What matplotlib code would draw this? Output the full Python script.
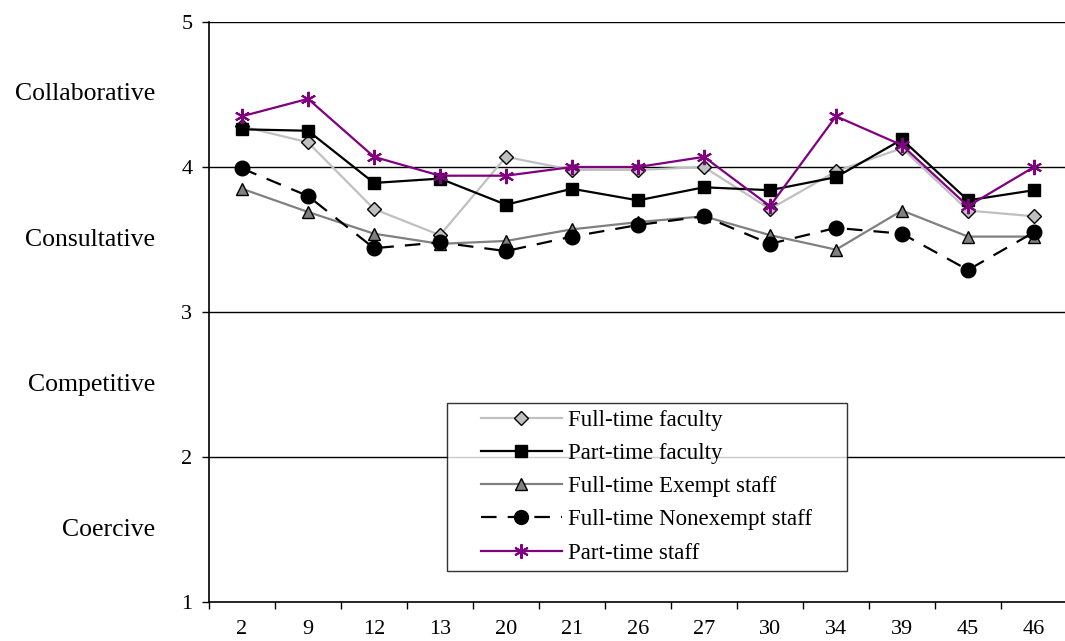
import matplotlib
matplotlib.use("Agg")
import matplotlib.pyplot as plt
from matplotlib.lines import Line2D
from matplotlib.legend_handler import HandlerLine2D
import numpy as np

plt.rcParams['font.family'] = ['Liberation Serif', 'DejaVu Serif']

items = ["2", "9", "12", "13", "20", "21", "26", "27", "30", "34", "39", "45", "46"]
levels = ["Coercive", "Competitive", "Consultative", "Collaborative"]

ft_faculty = [4.28, 4.17, 3.71, 3.53, 4.07, 3.98, 3.98, 4.00, 3.71, 3.97, 4.13, 3.70, 3.66]
pt_faculty = [4.26, 4.25, 3.89, 3.92, 3.74, 3.85, 3.77, 3.86, 3.84, 3.93, 4.19, 3.77, 3.84]
ft_exempt = [3.85, 3.69, 3.54, 3.47, 3.49, 3.57, 3.62, 3.66, 3.53, 3.43, 3.70, 3.52, 3.52]
ft_nonexempt = [3.99, 3.80, 3.44, 3.48, 3.42, 3.52, 3.60, 3.66, 3.47, 3.58, 3.54, 3.29, 3.55]
pt_staff = [4.35, 4.47, 4.07, 3.94, 3.94, 4.00, 4.00, 4.07, 3.73, 4.35, 4.15, 3.73, 4.00]

fig = plt.figure(figsize=(10.65, 6.41), dpi=100)
ax = fig.add_axes([209 / 1065, 39 / 641, 858 / 1065, 580 / 641])

x = np.arange(len(items)) + 0.5

# horizontal reference lines at each whole score
for yv in [2, 3, 4, 5]:
    ax.axhline(yv, color="black", lw=1.0, zorder=1)

ax.plot(x, ft_faculty, color="#c0c0c0", lw=1.6, marker="D", ms=7,
        mfc="#c0c0c0", mec="black", mew=1.0, label="Full-time faculty", zorder=3)
ax.plot(x, pt_faculty, color="black", lw=1.6, marker="s", ms=8.5,
        mfc="black", mec="black", label="Part-time faculty", zorder=4)
ax.plot(x, ft_exempt, color="#808080", lw=1.6, marker="^", ms=9,
        mfc="#808080", mec="black", mew=1.0, label="Full-time Exempt staff", zorder=3)
ax.plot(x, ft_nonexempt, color="black", lw=1.6, ls=(0, (7, 5)), marker="o", ms=10.5,
        mfc="black", mec="black", label="Full-time Nonexempt staff", zorder=3)
ax.plot(x, pt_staff, color="#800080", lw=1.6, marker=(6, 2, 0), ms=11,
        mec="#800080", mew=1.5, label="Part-time staff", zorder=5)

ax.set_xlim(0, len(items))
ax.set_ylim(1, 5)

ax.set_xticks(np.arange(len(items) + 1))
ax.set_xticklabels([])
ax.set_xticks(x, minor=True)
ax.set_xticklabels(items, minor=True, fontsize=16)
ax.tick_params(axis="x", which="major", direction="out", length=5, width=1)
ax.tick_params(axis="x", which="minor", length=0, pad=13)

ax.set_yticks([1, 2, 3, 4, 5])
ax.set_yticklabels(["1", "2", "3", "4", "5"], fontsize=16)
ax.tick_params(axis="y", direction="out", length=5, width=1, pad=7)

for s in ["top", "right"]:
    ax.spines[s].set_visible(False)
for s in ["left", "bottom"]:
    ax.spines[s].set_linewidth(1.2)

# level names between score lines
for i, name in enumerate(levels):
    ax.text(-54 / 66.0, 1.5 + i, name, ha="right", va="center", fontsize=18.5,
            clip_on=False)

handler = HandlerLine2D(xpad=1.18)
leg = ax.legend(loc="upper left",
                bbox_to_anchor=((447 - 209) / 858, (602 - 573) / 580, 400 / 858, 170 / 580),
                mode="expand", borderaxespad=0,
                fontsize=16.5, frameon=True, fancybox=False, edgecolor="black",
                handlelength=4.72, borderpad=0.3, labelspacing=0.53,
                handletextpad=0.25, markerscale=0.95,
                handler_map={Line2D: handler})
leg.get_frame().set_linewidth(1.0)

fig.savefig("out.png", dpi=100)
